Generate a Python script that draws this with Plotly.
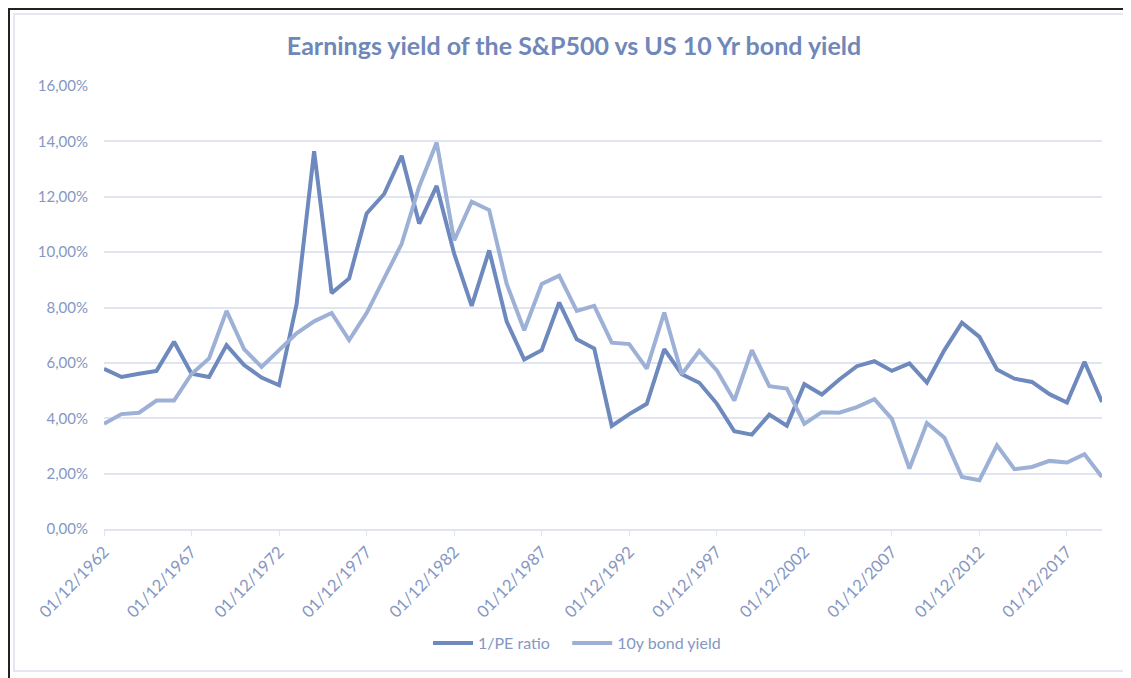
import plotly.graph_objects as go

years = list(range(1962, 2020))

pe_yield = [5.79, 5.49, 5.61, 5.71, 6.76, 5.61, 5.49, 6.64, 5.92, 5.47,
            5.19, 8.12, 13.64, 8.52, 9.05, 11.4, 12.1, 13.48, 11.03, 12.39,
            9.94, 8.06, 10.06, 7.49, 6.12, 6.46, 8.18, 6.85, 6.52, 3.72,
            4.15, 4.52, 6.5, 5.59, 5.28, 4.53, 3.53, 3.41, 4.13, 3.73,
            5.23, 4.86, 5.4, 5.88, 6.06, 5.71, 5.98, 5.29, 6.46, 7.45,
            6.94, 5.76, 5.43, 5.31, 4.87, 4.57, 6.04, 4.59]

bond_yield = [3.8, 4.15, 4.2, 4.64, 4.64, 5.6, 6.16, 7.88, 6.5, 5.85,
              6.46, 7.07, 7.5, 7.8, 6.82, 7.8, 9.05, 10.3, 12.36, 13.96,
              10.42, 11.82, 11.52, 8.85, 7.18, 8.85, 9.15, 7.88, 8.06, 6.73,
              6.68, 5.79, 7.82, 5.59, 6.43, 5.73, 4.64, 6.46, 5.16, 5.07,
              3.8, 4.22, 4.2, 4.4, 4.69, 3.98, 2.18, 3.83, 3.3, 1.88,
              1.76, 3.02, 2.16, 2.24, 2.46, 2.4, 2.7, 1.88]

tick_years = list(range(1962, 2018, 5))
tick_labels = ["01/12/%d" % y for y in tick_years]
y_ticks = [0, 2, 4, 6, 8, 10, 12, 14, 16]
y_labels = ["%d,00%%" % v for v in y_ticks]

dark = "#6e89bd"
light = "#9db0d6"
txt = "#8597c2"
grid = "#e1e5ef"
font_family = "Lato, 'Open Sans', sans-serif"

W, H = 1123, 670
L, R, T, B = 96, 29, 78, 149
PW, PH = W - L - R, H - T - B


def px(x):
    return (x - L) / PW


def py(y):
    return (H - B - y) / PH


fig = go.Figure()
fig.add_trace(go.Scatter(x=years, y=pe_yield, mode="lines", name="1/PE ratio   ",
                         line=dict(color=dark, width=4)))
fig.add_trace(go.Scatter(x=years, y=bond_yield, mode="lines", name="10y bond yield",
                         line=dict(color=light, width=4)))

fig.update_layout(
    width=W, height=H,
    paper_bgcolor="white", plot_bgcolor="white",
    margin=dict(l=L, r=R, t=T, b=B),
    title=dict(text="<b>Earnings yield of the S&P500 vs US 10 Yr bond yield</b>",
               x=566 / W, xanchor="center", y=1 - 38 / H, yanchor="middle",
               font=dict(family=font_family, size=25, color="#6f87b9")),
    font=dict(family=font_family, color=txt, size=15),
    showlegend=True,
    legend=dict(orientation="h", x=px(569), xanchor="center", y=-(635 - (H - B)) / PH,
                yanchor="middle", font=dict(size=16, color=txt), itemwidth=40,
                traceorder="normal"),
    xaxis=dict(range=[1962, 2019], tickvals=tick_years, ticktext=tick_labels,
               tickangle=-46, showgrid=False, zeroline=False,
               showline=True, linecolor=grid, linewidth=1.5,
               ticks="outside", ticklen=5, tickcolor=grid,
               tickfont=dict(size=16.5, color=txt)),
    yaxis=dict(range=[0, 16], tickvals=y_ticks, ticktext=y_labels,
               showgrid=True, gridcolor=grid, gridwidth=1.5, zeroline=False,
               showline=False, ticks="outside", ticklen=12,
               tickcolor="rgba(0,0,0,0)",
               tickfont=dict(size=15, color=txt)),
)

# screenshot frame: black edge on top/left, light inner border
fig.add_shape(type="line", xref="paper", yref="paper",
              x0=px(0), x1=px(W + 10), y0=py(1), y1=py(1),
              line=dict(color="#222222", width=2), layer="above")
fig.add_shape(type="line", xref="paper", yref="paper",
              x0=px(1), x1=px(1), y0=py(0), y1=py(H + 10),
              line=dict(color="#222222", width=2), layer="above")
fig.add_shape(type="rect", xref="paper", yref="paper",
              x0=px(6), x1=px(W + 10), y0=py(663), y1=py(6),
              line=dict(color="#e4e7ef", width=2), fillcolor="rgba(0,0,0,0)",
              layer="below")

fig.write_html("out.html")
